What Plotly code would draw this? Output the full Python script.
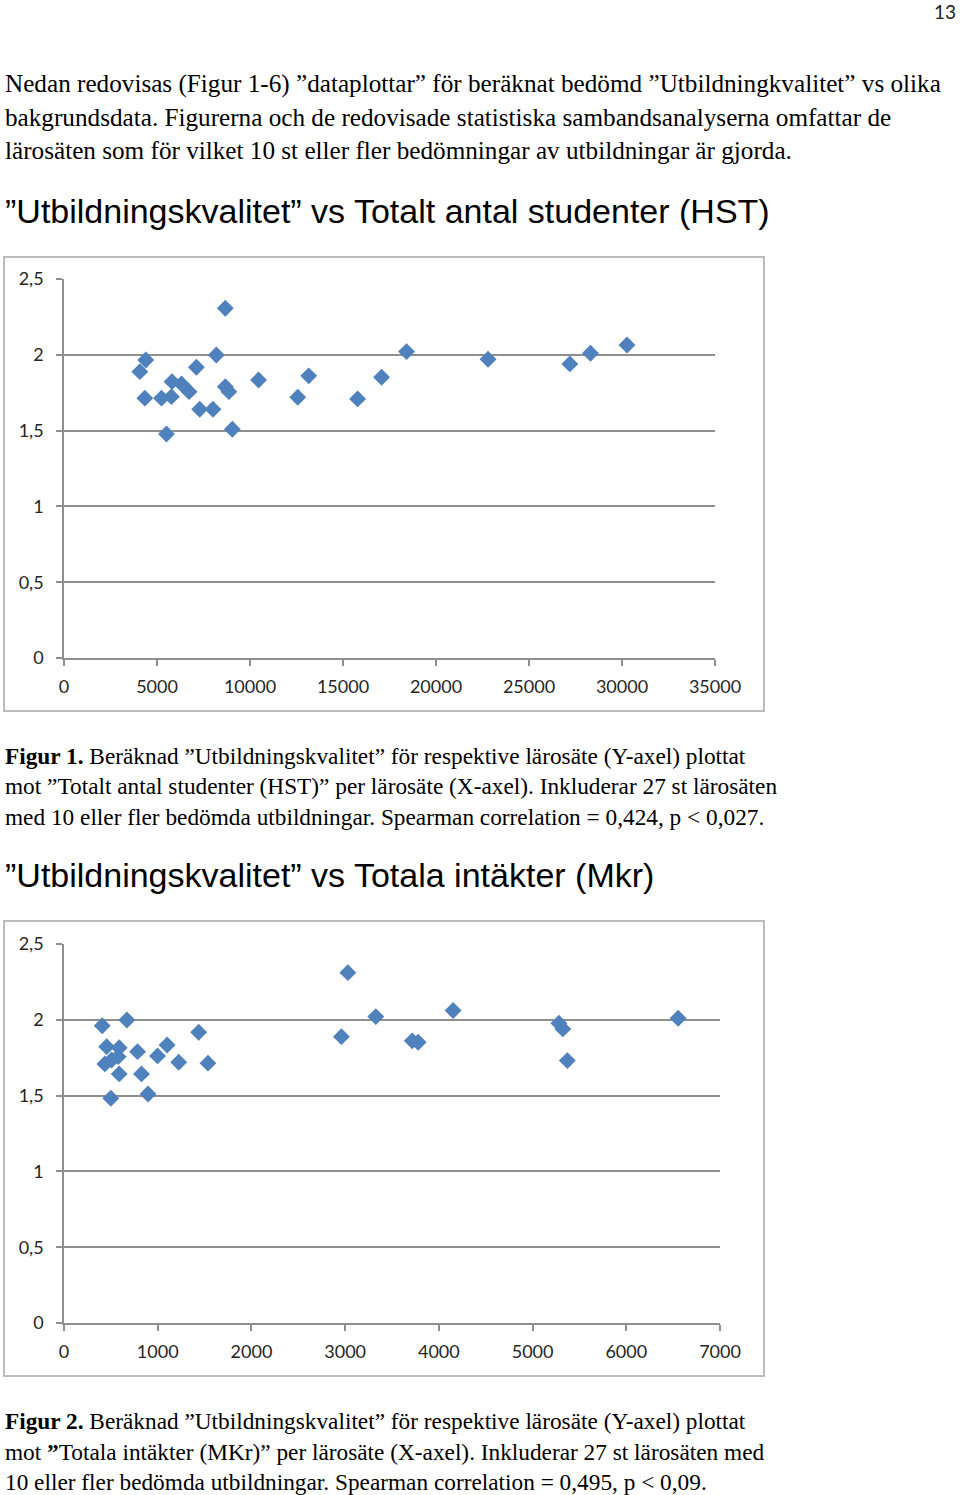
import plotly.graph_objects as go

W, H = 960, 1495

# ---------------- data ----------------
hst = [4077, 4398, 4345, 5240, 5509, 5777, 5810, 6313, 6723, 7118, 7295, 8009, 8190,
       8673, 8673, 8866, 9049, 10460, 12568, 13158, 15786, 17074, 18415, 22797, 27195, 28306, 30269]
quality_hst = [1.889, 1.966, 1.714, 1.714, 1.478, 1.724, 1.823, 1.808, 1.757, 1.918, 1.641, 1.641, 1.999,
               2.307, 1.790, 1.757, 1.509, 1.834, 1.720, 1.861, 1.709, 1.852, 2.021, 1.971, 1.940, 2.010, 2.065]

income = [408, 671, 455, 589, 436, 508, 578, 589, 785, 827, 998, 1100, 1224, 1437, 1536, 500, 897,
          2960, 3029, 3327, 3716, 3779, 4152, 5281, 5323, 5371, 6553]
quality_income = [1.961, 1.999, 1.823, 1.816, 1.709, 1.735, 1.757, 1.643, 1.790, 1.643, 1.762, 1.834, 1.720,
                  1.918, 1.714, 1.483, 1.511, 1.889, 2.311, 2.021, 1.861, 1.852, 2.061, 1.977, 1.940, 1.731, 2.010]

y_tickvals = [0, 0.5, 1, 1.5, 2, 2.5]
y_ticktext = ["0", "0,5", "1", "1,5", "2", "2,5"]
x1_tickvals = [0, 5000, 10000, 15000, 20000, 25000, 30000, 35000]
x1_ticktext = ["0", "5000", "10000", "15000", "20000", "25000", "30000", "35000"]
x2_tickvals = [0, 1000, 2000, 3000, 4000, 5000, 6000, 7000]
x2_ticktext = ["0", "1000", "2000", "3000", "4000", "5000", "6000", "7000"]

page_number = "13"
intro_lines = [
    "Nedan redovisas (Figur 1-6) ”dataplottar” för beräknat bedömd ”Utbildningkvalitet” vs olika",
    "bakgrundsdata. Figurerna och de redovisade statistiska sambandsanalyserna omfattar de",
    "lärosäten som för vilket 10 st eller fler bedömningar av utbildningar är gjorda.",
]
title1 = "”Utbildningskvalitet” vs Totalt antal studenter (HST)"
caption1 = [
    "<b>Figur 1.</b> Beräknad ”Utbildningskvalitet” för respektive lärosäte (Y-axel) plottat",
    "mot ”Totalt antal studenter (HST)” per lärosäte (X-axel). Inkluderar 27 st lärosäten",
    "med 10 eller fler bedömda utbildningar. Spearman correlation = 0,424, p < 0,027.",
]
title2 = "”Utbildningskvalitet” vs Totala intäkter (Mkr)"
caption2 = [
    "<b>Figur 2.</b> Beräknad ”Utbildningskvalitet” för respektive lärosäte (Y-axel) plottat",
    "mot <b>”</b>Totala intäkter (MKr)” per lärosäte (X-axel). Inkluderar 27 st lärosäten med",
    "10 eller fler bedömda utbildningar. Spearman correlation = 0,495, p < 0,09.",
]

# ---------------- helpers (page px -> paper fraction) ----------------
def px(x):
    return x / W

def py(y):
    return 1 - y / H

MARKER = dict(symbol="diamond", size=13, color="#4F81BD", line=dict(width=0))
GRID = "#8f8f8f"
TICKFONT = dict(family="Lato, Open Sans, sans-serif", size=18, color="#262626")
SERIF = "Liberation Serif, Times New Roman, serif"
SANS = "Liberation Sans, Arial, sans-serif"

fig = go.Figure()
fig.add_trace(go.Scatter(x=hst, y=quality_hst, mode="markers", marker=MARKER,
                         xaxis="x", yaxis="y", showlegend=False))
fig.add_trace(go.Scatter(x=income, y=quality_income, mode="markers", marker=MARKER,
                         xaxis="x2", yaxis="y2", showlegend=False))

def xaxis(domain, rng, tv, tt, anchor):
    return dict(domain=domain, range=rng, tickvals=tv, ticktext=tt, anchor=anchor,
                showgrid=False, zeroline=False, showline=True, linecolor=GRID, linewidth=1.5,
                ticks="outside", ticklen=6, tickcolor=GRID, tickwidth=1.5, automargin=False,
                tickfont=TICKFONT, ticklabelstandoff=6, fixedrange=True)

def yaxis(domain, anchor):
    return dict(domain=domain, range=[0, 2.5], tickvals=y_tickvals, ticktext=y_ticktext,
                anchor=anchor, showgrid=True, gridcolor=GRID, gridwidth=1.5,
                zeroline=False, showline=True, linecolor=GRID, linewidth=1.5,
                ticks="outside", ticklen=6, tickcolor=GRID, tickwidth=1.5, automargin=False,
                tickfont=TICKFONT, ticklabelstandoff=9, fixedrange=True)

fig.update_layout(
    width=W, height=H, margin=dict(l=0, r=0, t=0, b=0, pad=0, autoexpand=False),
    paper_bgcolor="white", plot_bgcolor="white",
    xaxis=xaxis([px(64), px(715)], [0, 35000], x1_tickvals, x1_ticktext, "y"),
    yaxis=yaxis([py(658), py(279)], "x"),
    xaxis2=xaxis([px(64), px(720)], [0, 7000], x2_tickvals, x2_ticktext, "y2"),
    yaxis2=yaxis([py(1323), py(944)], "x2"),
    showlegend=False,
)

shapes = []
for (y0, y1) in [(257, 711), (921, 1376)]:
    shapes.append(dict(type="rect", xref="paper", yref="paper",
                       x0=px(4), x1=px(764), y0=py(y1), y1=py(y0),
                       line=dict(color="#a6a6a6", width=1.5), fillcolor="rgba(0,0,0,0)", layer="below"))
fig.update_layout(shapes=shapes)

ann = []
def text(s, x, y, font, size, anchor="left", color="black"):
    ann.append(dict(text=s, x=px(x), y=py(y), xref="paper", yref="paper",
                    xanchor=anchor, yanchor="middle", showarrow=False,
                    font=dict(family=font, size=size, color=color)))

text(page_number, 958, 11, "Lato, sans-serif", 19, anchor="right", color="#222")
for i, s in enumerate(intro_lines):
    text(s, 3, 84 + i * 33.5, SERIF, 25.2)
text(title1, 3, 211, SANS, 34)
for i, s in enumerate(caption1):
    text(s, 3, 756 + i * 30.5, SERIF, 23.3)
text(title2, 3, 875, SANS, 34)
for i, s in enumerate(caption2):
    text(s, 3, 1421 + i * 30.5, SERIF, 23.3)

fig.update_layout(annotations=ann)
fig.write_html("out.html")
